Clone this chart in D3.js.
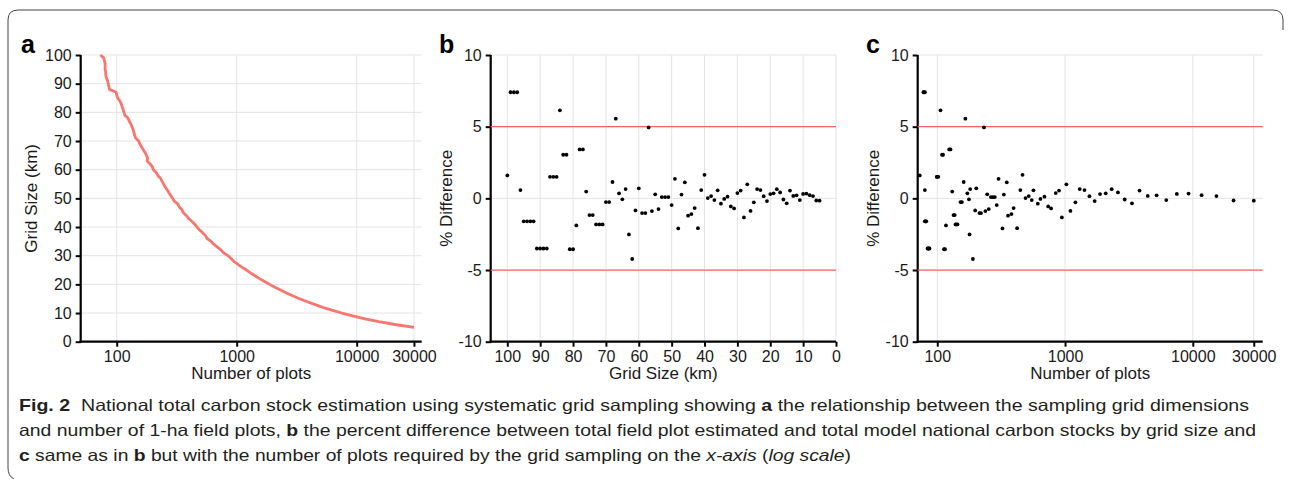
<!DOCTYPE html>
<html><head><meta charset="utf-8">
<script src="https://cdn.jsdelivr.net/npm/d3@7"></script>
<style>
body{margin:0;background:#fff}
svg text{font-family:"Liberation Sans",Arial,sans-serif}
</style>
</head><body>
<svg id="chart" width="1290" height="479"></svg>
<script>
// ---------------- data ----------------
const gridSizes = [100,99,98,97,96,95,94,93,92,91,90,89,88,87,86,85,84,83,82,81,80,79,78,77,76,75,74,73,72,71,
  70,69,68,67,66,65,64,63,62,61,60,59,58,57,56,55,54,53,52,51,50,49,48,47,46,45,44,43,42,41,
  40,39,38,37,36,35,34,33,32,31,30,29,28,27,26,25,24,23,22,21,20,19,18,17,16,15,14,13,12,11,
  10,9,8,7,6,5];
const plotCounts = [73,78,79,80,80,80,81,81,82,84,85,86,87,99,100,102,106,109,111,113,115,117,124,127,131,134,137,139,141,144,
  152,156,161,166,172,177,181,179,190,198,202,214,220,232,238,246,253,263,272,282,292,302,324,332,350,358,381,396,422,447,
  465,491,520,549,566,612,642,690,738,778,846,898,945,1025,1102,1205,1303,1420,1552,1706,1880,2082,2317,2595,2930,3340,3830,4440,5210,6200,
  7500,9260,11720,15310,20840,30010];
const pctDiff = [1.6,7.4,7.4,7.4,0.58,-1.6,-1.6,-1.6,-1.6,-3.5,-3.5,-3.5,-3.5,1.5,1.5,1.5,6.14,3.04,3.04,-3.55,-3.55,-1.89,3.41,3.41,0.47,-1.17,-1.17,-1.82,-1.82,-1.82,
  -0.26,-0.26,1.14,5.56,0.35,-0.07,0.65,-2.52,-4.23,-0.84,0.70,-1.03,-1.03,4.95,-0.89,0.28,-0.75,0.09,0.09,0.09,-0.47,1.36,-2.10,0.26,1.12,-1.21,-1.10,-0.68,-2.08,0.58,
  1.64,0.02,0.16,-0.12,0.56,-0.37,-0.04,0.12,-0.56,-0.70,0.37,0.54,-1.33,0.98,-0.88,-0.28,0.65,0.58,0.15,-0.19,0.30,0.35,0.64,0.41,-0.08,-0.35,0.54,0.17,0.21,-0.12,
  0.31,0.33,0.22,0.16,-0.15,-0.16];

const gridTicksY = [0,10,20,30,40,50,60,70,80,90,100];
const plotTicksX = [100,1000,10000,30000];
const gridTicksX = [100,90,80,70,60,50,40,30,20,10,0];
const diffTicksY = [-10,-5,0,5,10];
const refLines = [5,-5];

const panelLetters = ["a","b","c"];
const axisTitles = {a:["Number of plots","Grid Size (km)"], b:["Grid Size (km)","% Difference"], c:["Number of plots","% Difference"]};

const captionLines = [
  [["Fig. 2","b"],["  National total carbon stock estimation using systematic grid sampling showing ",""],["a","b"],[" the relationship between the sampling grid dimensions",""]],
  [["and number of 1-ha field plots, ",""],["b","b"],[" the percent difference between total field plot estimated and total model national carbon stocks by grid size and",""]],
  [["c","b"],[" same as in ",""],["b","b"],[" but with the number of plots required by the grid sampling on the ",""],["x-axis","i"],[" (",""],["log scale","i"],[")",""]]
];

// ---------------- drawing ----------------
const svg = d3.select("#chart");
const rows = gridSizes.map((g,i)=>({g, n:plotCounts[i], d:pctDiff[i]}));

// frame
svg.append("path")
  .attr("d","M1283,30 V20 Q1283,10 1273,10 H18 Q8,10 8,20 V468 Q8,476 14,479")
  .attr("fill","none").attr("stroke","#444").attr("stroke-width",1);

const Y0 = 341.7, Y1 = 55;
const GRID = "#e4e4e4", TXT = "#1a1a1a";

function panel(x, y, xTicks, yTicks, titles, letter, letterX, yTitleX){
  const g = svg.append("g");
  const [x0,x1] = x.range();
  g.selectAll(".gy").data(yTicks).join("line")
    .attr("x1",x0).attr("x2",x1).attr("y1",d=>y(d)).attr("y2",d=>y(d))
    .attr("stroke",GRID).attr("stroke-width",1);
  g.selectAll(".gx").data(xTicks).join("line")
    .attr("y1",Y0).attr("y2",Y1).attr("x1",d=>x(d)).attr("x2",d=>x(d))
    .attr("stroke",GRID).attr("stroke-width",1);
  const ax = g.append("g").attr("transform",`translate(0,${Y0})`)
    .call(d3.axisBottom(x).tickValues(xTicks).tickFormat(d=>String(d)).tickSize(5).tickSizeOuter(0).tickPadding(4));
  const ay = g.append("g").attr("transform",`translate(${x0},0)`)
    .call(d3.axisLeft(y).tickValues(yTicks).tickFormat(d=>String(d)).tickSize(5).tickSizeOuter(0).tickPadding(4));
  [ax,ay].forEach(a=>{
    a.select(".domain").attr("stroke","#000").attr("stroke-width",2.2);
    a.selectAll(".tick line").attr("stroke","#000").attr("stroke-width",2);
    a.selectAll(".tick text").attr("fill",TXT).style("font-size","16px")
      .style("font-family","'Liberation Sans',Arial,sans-serif");
  });
  ay.select(".domain").attr("d",`M0,${Y0+1.1}V${Y1}`);
  ax.select(".domain").attr("d",`M${x0-1.1},0H${x1}`);
  g.append("text").attr("x",(x0+x1)/2).attr("y",Y0+37.5).attr("text-anchor","middle")
    .attr("fill",TXT).style("font-size","17px").text(titles[0]);
  g.append("text").attr("transform",`translate(${yTitleX},${(Y0+Y1)/2}) rotate(-90)`)
    .attr("text-anchor","middle").attr("fill",TXT).style("font-size","17px").text(titles[1]);
  g.append("text").attr("x",letterX).attr("y",53).attr("fill","#000")
    .style("font-size","25px").style("font-weight","bold").text(letter);
  return g;
}

// panel a
const xA = d3.scaleLog().domain([50.1,34810]).range([80.7,421.7]);
const yA = d3.scaleLinear().domain([0,100]).range([Y0,Y1]);
const gA = panel(xA,yA,plotTicksX,gridTicksY,axisTitles.a,panelLetters[0],21,37);
gA.append("path").datum(rows)
  .attr("d",d3.line().x(d=>xA(d.n)).y(d=>yA(d.g)))
  .attr("fill","none").attr("stroke","#f8766d").attr("stroke-width",2.8)
  .attr("stroke-linejoin","round");

// panel b
const xB = d3.scaleLinear().domain([105.05,0]).range([490.7,836]);
const yB = d3.scaleLinear().domain([-10,10]).range([Y0,Y1]);
const gB = panel(xB,yB,gridTicksX,diffTicksY,axisTitles.b,panelLetters[1],439,452);
gB.selectAll(".ref").data(refLines).join("line")
  .attr("x1",490.7).attr("x2",836).attr("y1",d=>yB(d)).attr("y2",d=>yB(d))
  .attr("stroke","#f26464").attr("stroke-width",1.3);
gB.selectAll(".pt").data(rows).join("circle")
  .attr("cx",d=>xB(d.g)).attr("cy",d=>yB(d.d)).attr("r",1.9).attr("fill","#000");

// panel c
const xC = d3.scaleLog().domain([70.3,35240]).range([917.7,1262.7]);
const yC = d3.scaleLinear().domain([-10,10]).range([Y0,Y1]);
const gC = panel(xC,yC,plotTicksX,diffTicksY,axisTitles.c,panelLetters[2],866,879);
gC.selectAll(".ref").data(refLines).join("line")
  .attr("x1",917.7).attr("x2",1262.7).attr("y1",d=>yC(d)).attr("y2",d=>yC(d))
  .attr("stroke","#f26464").attr("stroke-width",1.3);
gC.selectAll(".pt").data(rows).join("circle")
  .attr("cx",d=>xC(d.n)).attr("cy",d=>yC(d.d)).attr("r",1.9).attr("fill","#000");

// caption
const capY = [411,436,461], capW = [1230,1237,832];
captionLines.forEach((line,i)=>{
  const t = svg.append("text").attr("x",19).attr("y",capY[i])
    .attr("textLength",capW[i]).attr("lengthAdjust","spacingAndGlyphs")
    .style("font-size","16.5px").style("white-space","pre").attr("fill","#231f20")
    .style("font-family","'Liberation Sans',Arial,sans-serif");
  line.forEach(([s,st])=>{
    const sp = t.append("tspan").text(s);
    if(st==="b") sp.style("font-weight","bold");
    if(st==="i") sp.style("font-style","italic");
  });
});
</script>
</body></html>
